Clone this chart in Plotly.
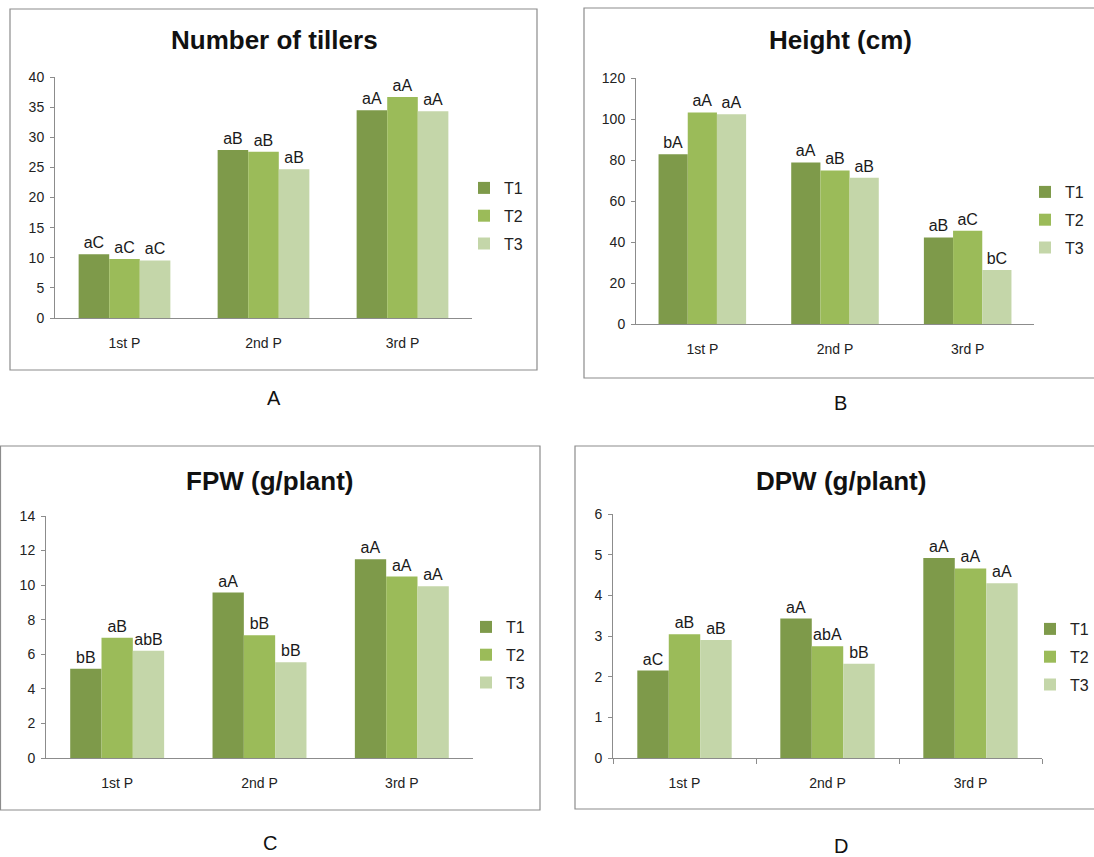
import plotly.graph_objects as go

W, H = 1094, 857

periods = ["1st P", "2nd P", "3rd P"]
treatments = ["T1", "T2", "T3"]
colors = ["#7E9A4A", "#9BBB59", "#C4D6A9"]

# Panel A: Number of tillers
tillers_t1 = [10.6, 27.9, 34.5]
tillers_t2 = [9.8, 27.6, 36.7]
tillers_t3 = [9.55, 24.7, 34.3]
tillers_lab_t1 = ["aC", "aB", "aA"]
tillers_lab_t2 = ["aC", "aB", "aA"]
tillers_lab_t3 = ["aC", "aB", "aA"]

# Panel B: Height (cm)
height_t1 = [82.8, 78.8, 42.2]
height_t2 = [103.2, 74.9, 45.5]
height_t3 = [102.3, 71.3, 26.3]
height_lab_t1 = ["bA", "aA", "aB"]
height_lab_t2 = ["aA", "aB", "aC"]
height_lab_t3 = ["aA", "aB", "bC"]

# Panel C: FPW (g/plant)
fpw_t1 = [5.17, 9.57, 11.5]
fpw_t2 = [6.96, 7.10, 10.5]
fpw_t3 = [6.21, 5.54, 9.94]
fpw_lab_t1 = ["bB", "aA", "aA"]
fpw_lab_t2 = ["aB", "bB", "aA"]
fpw_lab_t3 = ["abB", "bB", "aA"]

# Panel D: DPW (g/plant)
dpw_t1 = [2.15, 3.43, 4.92]
dpw_t2 = [3.04, 2.75, 4.66]
dpw_t3 = [2.90, 2.32, 4.30]
dpw_lab_t1 = ["aC", "aA", "aA"]
dpw_lab_t2 = ["aB", "abA", "aA"]
dpw_lab_t3 = ["aB", "bB", "aA"]

titles = ["Number of tillers", "Height (cm)", "FPW (g/plant)", "DPW (g/plant)"]
panel_letters = ["A", "B", "C", "D"]
y_ranges = [[0, 40], [0, 120], [0, 14], [0, 6]]
y_dticks = [5, 20, 2, 1]


def px(x):
    return x / W


def py(y):
    return 1 - y / H


panels = [
    dict(values=[tillers_t1, tillers_t2, tillers_t3],
         labels=[tillers_lab_t1, tillers_lab_t2, tillers_lab_t3],
         xdom=(55, 472), ydom=(318, 77), box=(10, 9, 537, 370),
         title=(274, 40), letter=(274, 398), legend=(464, 171)),
    dict(values=[height_t1, height_t2, height_t3],
         labels=[height_lab_t1, height_lab_t2, height_lab_t3],
         xdom=(636, 1034), ydom=(324, 78), box=(584, 8, 1100, 378),
         title=(840, 40), letter=(840, 403), legend=(1025, 175)),
    dict(values=[fpw_t1, fpw_t2, fpw_t3],
         labels=[fpw_lab_t1, fpw_lab_t2, fpw_lab_t3],
         xdom=(46, 473), ydom=(758, 516), box=(0.5, 446, 540, 810),
         title=(270, 481), letter=(270, 843), legend=(466, 610)),
    dict(values=[dpw_t1, dpw_t2, dpw_t3],
         labels=[dpw_lab_t1, dpw_lab_t2, dpw_lab_t3],
         xdom=(613, 1042), ydom=(758, 514), box=(575, 446, 1100, 809),
         title=(841, 481), letter=(841, 846), legend=(1030, 612)),
]

tick_font = dict(family="Liberation Sans, Arial", size=14, color="#222222")
axis_col = "#8C8C8C"

fig = go.Figure()
shapes, annotations = [], []
layout_extra = {}

for p_i, p in enumerate(panels):
    n = "" if p_i == 0 else str(p_i + 1)
    leg = "legend" + n
    for t_i, tname in enumerate(treatments):
        fig.add_trace(go.Bar(
            x=periods, y=p["values"][t_i], name=tname,
            marker=dict(color=colors[t_i], line=dict(width=0)),
            text=p["labels"][t_i], textposition="outside",
            textfont=dict(family="Liberation Sans, Arial", size=16, color="#1A1A1A"),
            constraintext="none", cliponaxis=False,
            xaxis="x" + n, yaxis="y" + n,
            legend=leg, legendgroup=f"{p_i}_{t_i}",
            hoverinfo="skip",
        ))
    layout_extra["xaxis" + n] = dict(
        domain=[px(p["xdom"][0]), px(p["xdom"][1])], anchor="y" + n,
        showline=True, linecolor=axis_col, linewidth=1,
        showgrid=False, zeroline=False, fixedrange=True,
        ticks="outside" if p_i == 3 else "", tickson="boundaries",
        ticklen=5, tickcolor=axis_col,
        tickfont=tick_font, ticklabelstandoff=12,
    )
    layout_extra["yaxis" + n] = dict(
        domain=[py(p["ydom"][0]), py(p["ydom"][1])], anchor="x" + n,
        range=y_ranges[p_i], dtick=y_dticks[p_i],
        showline=True, linecolor=axis_col, linewidth=1,
        showgrid=False, zeroline=False, fixedrange=True,
        ticks="outside", ticklen=4, tickcolor=axis_col,
        tickfont=tick_font, ticklabelstandoff=3,
    )
    layout_extra[leg] = dict(
        x=px(p["legend"][0]), y=py(p["legend"][1]), xanchor="left", yanchor="top",
        bgcolor="rgba(0,0,0,0)", tracegroupgap=4,
        font=dict(family="Liberation Sans, Arial", size=16, color="#222222"),
    )
    x0, y0, x1, y1 = p["box"]
    shapes.append(dict(type="rect", xref="paper", yref="paper",
                       x0=px(x0), x1=px(x1), y0=py(y1), y1=py(y0),
                       line=dict(color="#8C8C8C", width=1.2), fillcolor="rgba(0,0,0,0)",
                       layer="below"))
    annotations.append(dict(text="<b>" + titles[p_i] + "</b>", xref="paper", yref="paper",
                            x=px(p["title"][0]), y=py(p["title"][1]),
                            xanchor="center", yanchor="middle", showarrow=False,
                            font=dict(family="Liberation Sans, Arial", size=26, color="#111111")))
    annotations.append(dict(text=panel_letters[p_i], xref="paper", yref="paper",
                            x=px(p["letter"][0]), y=py(p["letter"][1]),
                            xanchor="center", yanchor="middle", showarrow=False,
                            font=dict(family="Liberation Sans, Arial", size=20, color="#111111")))

fig.update_layout(
    width=W, height=H, margin=dict(l=0, r=0, t=0, b=0, autoexpand=False),
    paper_bgcolor="white", plot_bgcolor="white",
    barmode="group", bargap=0.34, bargroupgap=0,
    shapes=shapes, annotations=annotations,
    showlegend=True,
    **layout_extra,
)

post = (
    "document.documentElement.style.margin='0';"
    "document.documentElement.style.overflow='hidden';"
    "document.body.style.margin='0';"
    "document.body.style.overflow='hidden';"
    "document.body.style.height='857px';"
    "var gd=document.getElementById('{plot_id}');"
    "gd.style.position='absolute';gd.style.left='0px';gd.style.top='0px';"
)

fig.write_html("out.html", config={"displayModeBar": False}, post_script=post)
